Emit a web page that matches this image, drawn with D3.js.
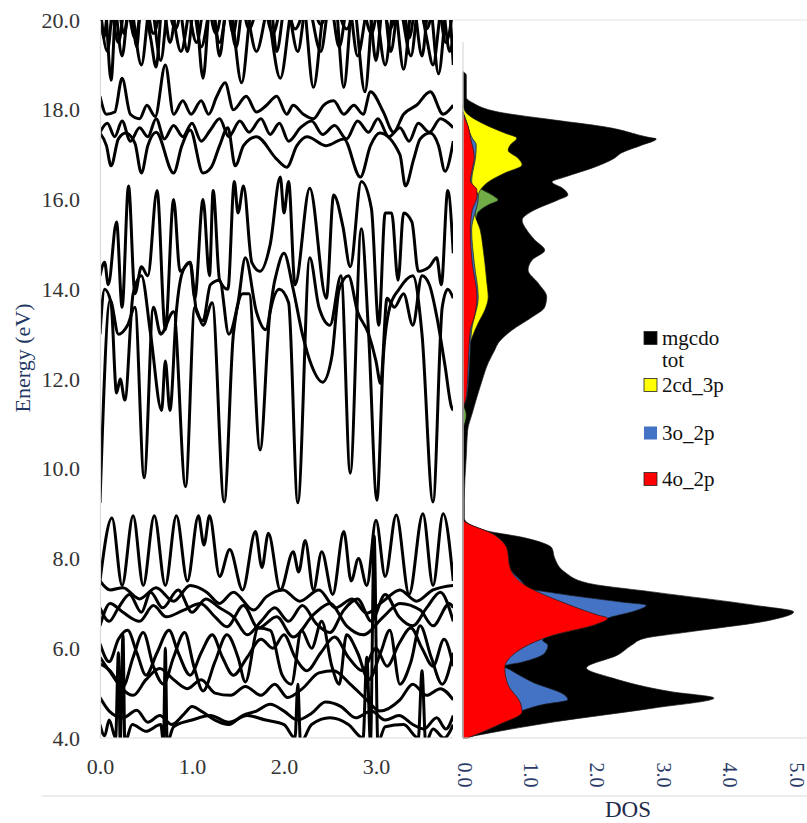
<!DOCTYPE html>
<html>
<head>
<meta charset="utf-8">
<script src="https://cdn.jsdelivr.net/npm/d3@7"></script>
<style>
  body { margin: 0; background: #fff; }
  svg { display: block; }
  svg text { font-family: "Liberation Serif", "DejaVu Serif", "Times New Roman", serif !important; }
</style>
</head>
<body>
<svg id="chart" width="807" height="823" font-family="Liberation Serif, DejaVu Serif, serif"></svg>
<script>
// band structure: [k, energy] pairs
const bandL2 = [[0,4.3],[0.05,4.05],[0.1,4.4],[0.17,4.0],[0.2,5.9],[0.22,3.9],[0.25,6.3],[0.27,3.9],[0.35,4.3],[0.5,4.15],[0.66,4.3],[0.69,3.9],[0.71,6.0],[0.73,3.9],[0.8,4.25],[1.0,4.4],[1.2,4.5],[1.4,4.35],[1.6,4.5],[1.8,4.4],[2.0,4.3],[2.12,4.0],[2.15,5.2],[2.18,3.9],[2.3,4.3],[2.5,4.45],[2.7,4.3],[2.86,4.0],[2.9,5.8],[2.94,3.9],[2.98,8.5],[3.02,3.9],[3.1,4.25],[3.3,4.3],[3.46,4.0],[3.5,5.5],[3.54,3.9],[3.62,4.2],[3.74,4.0],[3.84,4.3]];
const bandL3 = [[0,4.9],[0.1,4.6],[0.25,4.45],[0.4,4.62],[0.52,4.35],[0.65,4.5],[0.78,4.3],[0.92,4.55],[1.0,4.7],[1.1,4.6],[1.25,4.4],[1.4,4.3],[1.55,4.5],[1.7,4.6],[1.85,4.75],[2.0,4.6],[2.15,4.4],[2.3,4.55],[2.45,4.8],[2.62,4.7],[2.78,4.45],[2.95,4.6],[3.1,4.4],[3.25,4.5],[3.4,4.3],[3.52,4.2],[3.66,4.45],[3.76,4.2],[3.84,4.5]];
const bandL4 = [[0,5.65],[0.11,5.5],[0.24,5.1],[0.36,4.95],[0.5,5.3],[0.65,5.55],[0.8,5.3],[0.95,5.1],[1.1,5.3],[1.25,5.0],[1.42,4.95],[1.58,5.15],[1.75,4.95],[1.9,5.2],[2.04,4.9],[2.2,5.1],[2.38,5.45],[2.54,5.5],[2.72,5.2],[2.9,4.85],[3.04,4.6],[3.26,4.85],[3.4,5.2],[3.55,4.95],[3.7,5.1],[3.84,4.85]];
const bandL5 = [[0,5.8],[0.1,5.5],[0.25,5.15],[0.36,5.8],[0.47,6.35],[0.58,5.6],[0.69,5.2],[0.8,5.8],[0.92,6.35],[1.02,5.6],[1.12,5.05],[1.25,5.7],[1.38,6.3],[1.5,5.8],[1.58,5.25],[1.72,6.45],[1.85,6.4],[1.98,5.4],[2.08,5.2],[2.19,6.4],[2.3,6.0],[2.41,6.6],[2.52,5.6],[2.6,5.2],[2.68,6.3],[2.8,5.9],[2.92,5.3],[3.05,5.9],[3.15,6.4],[3.26,5.2],[3.38,5.7],[3.48,6.5],[3.6,5.8],[3.72,5.2],[3.84,5.9]];
const bandL5b = [[0,6.1],[0.1,5.7],[0.2,6.2],[0.3,6.4],[0.4,5.9],[0.5,5.4],[0.62,5.9],[0.75,6.4],[0.85,5.9],[0.98,5.4],[1.1,5.9],[1.22,6.3],[1.33,5.8],[1.45,5.4],[1.6,5.8],[1.75,6.2],[1.88,6.0],[2.0,6.3],[2.12,5.8],[2.25,5.5],[2.4,5.9],[2.55,6.25],[2.7,5.8],[2.85,5.5],[3.0,6.0],[3.12,5.6],[3.25,6.1],[3.38,6.45],[3.5,6.0],[3.62,5.6],[3.74,6.2],[3.84,5.6]];
const bandL6 = [[0,6.5],[0.11,7.0],[0.25,6.8],[0.43,6.6],[0.58,6.95],[0.72,6.7],[0.91,6.85],[1.09,7.0],[1.25,6.7],[1.38,6.48],[1.56,6.95],[1.72,6.45],[1.92,6.7],[2.1,6.25],[2.32,6.75],[2.5,7.0],[2.68,6.5],[2.86,6.3],[3.08,6.7],[3.26,7.0],[3.48,6.85],[3.62,6.5],[3.8,7.0],[3.84,6.9]];
const bandL6b = [[0,6.9],[0.1,6.6],[0.2,6.9],[0.32,7.2],[0.45,6.8],[0.55,7.25],[0.68,6.9],[0.85,7.3],[1.0,6.8],[1.15,7.1],[1.3,6.9],[1.45,6.7],[1.6,6.3],[1.75,6.6],[1.9,6.9],[2.05,6.6],[2.2,6.95],[2.35,6.55],[2.5,6.35],[2.65,6.85],[2.8,7.1],[2.95,6.6],[3.1,7.2],[3.25,6.7],[3.4,6.5],[3.55,6.9],[3.7,7.25],[3.84,6.6]];
const bandL7 = [[0,7.5],[0.11,7.3],[0.25,7.35],[0.43,7.1],[0.61,7.35],[0.8,7.05],[0.98,7.4],[1.16,7.25],[1.3,7.0],[1.45,7.25],[1.67,6.85],[1.81,7.15],[1.99,7.3],[2.17,7.05],[2.38,7.3],[2.56,6.9],[2.74,7.1],[2.9,6.78],[3.08,7.05],[3.26,7.3],[3.44,7.05],[3.62,7.3],[3.84,7.4]];
const bandL8 = [[0,7.5],[0.13,8.9],[0.24,7.4],[0.36,8.95],[0.47,7.4],[0.59,8.95],[0.71,7.4],[0.83,8.95],[0.95,7.5],[1.07,8.95],[1.13,8.3],[1.19,8.95],[1.3,7.6],[1.41,8.2],[1.55,7.3],[1.69,8.6],[1.76,7.8],[1.83,8.56],[1.96,7.3],[2.1,8.15],[2.16,7.7],[2.23,8.4],[2.32,7.3],[2.41,8.15],[2.53,7.2],[2.65,8.6],[2.73,7.5],[2.81,8.0],[2.9,7.4],[3.0,8.85],[3.1,7.6],[3.22,8.97],[3.36,7.2],[3.51,9.0],[3.62,7.4],[3.73,9.0],[3.84,7.5]];
const bandM1 = [[0,9.24],[0.11,13.76],[0.2,13.0],[0.3,13.2],[0.38,13.6],[0.48,9.8],[0.58,13.6],[0.66,13.0],[0.8,13.5],[0.93,9.6],[1.03,13.6],[1.12,13.2],[1.22,13.7],[1.35,9.26],[1.45,13.0],[1.55,13.9],[1.62,13.9],[1.74,10.42],[1.85,13.5],[1.95,14.0],[2.05,13.7],[2.15,9.24],[2.28,14.7],[2.38,13.6],[2.5,13.2],[2.62,14.3],[2.72,9.9],[2.84,15.35],[2.92,13.0],[3.01,9.3],[3.08,12.5],[3.15,13.6],[3.25,14.0],[3.4,14.3],[3.5,13.0],[3.62,9.26],[3.72,13.6],[3.78,14.0],[3.84,13.8]];
const bandM2 = [[0,13.0],[0.05,14.0],[0.12,13.7],[0.18,11.69],[0.22,12.0],[0.27,11.53],[0.36,13.9],[0.45,14.3],[0.55,13.0],[0.67,11.3],[0.71,12.4],[0.76,11.3],[0.83,13.5],[0.9,14.4],[0.98,14.6],[1.05,13.5],[1.12,13.3],[1.2,14.1],[1.3,14.2],[1.4,13.0],[1.5,13.7],[1.58,14.7],[1.7,13.5],[1.8,13.1],[1.9,14.2],[2.0,14.8],[2.1,14.0],[2.2,13.0],[2.3,12.3],[2.42,11.93],[2.52,12.5],[2.6,14.0],[2.7,14.3],[2.8,13.5],[2.92,13.0],[3.0,12.4],[3.05,11.9],[3.12,13.8],[3.2,13.6],[3.3,13.9],[3.4,13.2],[3.5,14.3],[3.58,14.1],[3.66,13.4],[3.75,12.3],[3.82,11.38],[3.84,11.3]];
const bandM3 = [[0,14.3],[0.05,14.6],[0.09,14.1],[0.18,15.5],[0.24,13.6],[0.31,16.3],[0.38,13.9],[0.45,14.5],[0.52,14.3],[0.62,16.2],[0.71,13.1],[0.8,16.0],[0.87,14.4],[0.98,14.6],[1.03,13.8],[1.12,16.0],[1.19,14.3],[1.23,16.2],[1.3,14.2],[1.39,14.0],[1.46,16.4],[1.5,15.7],[1.56,16.3],[1.65,14.6],[1.74,14.4],[1.85,15.0],[1.96,16.5],[2.0,15.7],[2.05,16.4],[2.12,14.1],[2.28,16.25],[2.46,13.8],[2.54,16.1],[2.64,15.4],[2.72,14.5],[2.84,16.4],[2.95,15.8],[3.03,13.2],[3.1,15.7],[3.17,15.7],[3.24,14.2],[3.3,15.7],[3.39,15.5],[3.46,14.4],[3.58,14.5],[3.66,14.7],[3.71,14.1],[3.78,16.2],[3.84,14.8]];
const bandT1 = [[0,17.48],[0.07,17.2],[0.12,16.75],[0.2,17.35],[0.28,17.48],[0.38,17.25],[0.45,16.59],[0.52,17.2],[0.61,17.5],[0.8,16.59],[0.89,17.2],[0.98,17.55],[1.12,16.59],[1.21,16.72],[1.3,17.2],[1.39,17.6],[1.47,16.75],[1.56,17.2],[1.7,17.4],[1.92,16.9],[2.03,16.72],[2.14,17.2],[2.25,17.4],[2.46,17.2],[2.65,17.35],[2.83,16.5],[2.94,17.2],[3.04,17.48],[3.26,17.0],[3.32,16.3],[3.41,16.9],[3.48,17.35],[3.59,17.48],[3.68,17.2],[3.75,16.63],[3.84,17.3]];
const bandT1b = [[0,17.5],[0.08,17.7],[0.16,17.4],[0.24,17.75],[0.33,17.3],[0.43,17.6],[0.52,17.4],[0.61,17.8],[0.7,17.35],[0.8,17.65],[0.9,17.4],[1.0,17.7],[1.1,17.3],[1.2,17.55],[1.3,17.8],[1.4,17.4],[1.52,17.75],[1.62,17.5],[1.75,17.8],[1.85,17.45],[1.95,17.7],[2.05,17.3],[2.18,17.6],[2.3,17.75],[2.42,17.45],[2.55,17.65],[2.68,17.35],[2.8,17.75],[2.92,17.5],[3.02,17.8],[3.14,17.4],[3.26,17.6],[3.36,17.3],[3.46,17.7],[3.58,17.5],[3.7,17.8],[3.84,17.6]];
const bandT2 = [[0,18.3],[0.07,17.9],[0.16,17.95],[0.24,18.7],[0.33,17.9],[0.43,17.8],[0.51,18.1],[0.6,17.85],[0.71,19.0],[0.8,17.9],[0.9,18.2],[0.99,17.9],[1.1,18.2],[1.18,17.9],[1.27,18.3],[1.36,18.6],[1.45,18.0],[1.59,18.3],[1.7,17.95],[1.81,18.1],[1.92,18.3],[2.03,17.9],[2.1,18.1],[2.21,17.9],[2.32,17.8],[2.43,18.1],[2.54,18.2],[2.65,17.9],[2.76,18.1],[2.86,17.9],[2.94,18.4],[3.08,17.95],[3.19,17.5],[3.3,17.9],[3.44,18.1],[3.59,18.4],[3.73,17.9],[3.84,18.1]];
const bandU1 = [[0,19.8],[0.05,20.4],[0.12,18.66],[0.18,20.5],[0.26,19.7],[0.33,20.3],[0.4,19.4],[0.45,20.5],[0.55,19.6],[0.61,18.95],[0.68,20.4],[0.76,19.5],[0.85,20.4],[0.95,19.3],[1.03,20.4],[1.12,18.7],[1.2,20.4],[1.3,19.5],[1.4,20.4],[1.54,18.6],[1.65,20.3],[1.78,20.5],[1.96,18.7],[2.1,20.4],[2.2,20.5],[2.32,18.5],[2.45,20.4],[2.55,20.5],[2.65,18.5],[2.75,20.4],[2.88,18.4],[2.98,20.4],[3.1,19.0],[3.2,20.3],[3.3,18.9],[3.4,20.4],[3.5,19.2],[3.58,20.4],[3.68,18.8],[3.78,20.4],[3.84,19.0]];
const bandU2 = [[0,20.3],[0.08,19.3],[0.15,20.4],[0.24,19.2],[0.32,20.4],[0.45,19.0],[0.55,20.4],[0.66,19.1],[0.75,20.4],[0.88,19.3],[1.0,20.4],[1.1,19.4],[1.22,20.4],[1.3,19.2],[1.38,20.3],[1.48,19.4],[1.56,20.4],[1.7,19.3],[1.85,20.4],[1.92,19.3],[2.02,20.4],[2.15,19.3],[2.25,20.4],[2.4,19.3],[2.5,20.4],[2.6,19.4],[2.7,20.4],[2.8,19.2],[2.92,20.3],[3.0,19.1],[3.08,20.4],[3.16,19.3],[3.25,20.3],[3.38,19.2],[3.47,20.4],[3.55,19.6],[3.62,19.0],[3.72,20.3],[3.8,19.3],[3.84,19.6]];
const bandU3 = [[0,20.5],[0.04,19.6],[0.1,20.4],[0.2,19.5],[0.28,20.4],[0.38,19.6],[0.48,20.5],[0.58,19.7],[0.7,20.5],[0.82,19.8],[0.92,20.5],[1.05,19.5],[1.15,20.5],[1.26,19.7],[1.36,20.5],[1.45,19.7],[1.52,20.5],[1.62,19.8],[1.75,20.5],[1.88,19.7],[2.0,20.5],[2.12,19.8],[2.28,20.5],[2.4,19.9],[2.52,20.5],[2.68,19.8],[2.82,20.5],[2.95,19.7],[3.05,20.5],[3.15,19.8],[3.28,20.5],[3.36,19.6],[3.45,20.5],[3.55,19.8],[3.66,20.5],[3.76,19.5],[3.84,20.3]];
const bands = [bandL2, bandL3, bandL4, bandL5, bandL5b, bandL6, bandL6b, bandL7, bandL8, bandM1, bandM2, bandM3, bandT1, bandT1b, bandT2, bandU1, bandU2, bandU3];

// density of states: [energy, DOS] pairs
const dosTot = [[4.0,0.0],[4.02,0.07],[4.36,1.38],[4.67,2.88],[4.89,3.78],[5.03,3.14],[5.34,2.24],[5.56,1.86],[5.85,2.33],[6.07,2.54],[6.22,2.73],[6.36,3.38],[6.63,4.64],[6.81,4.98],[6.96,4.38],[7.25,2.88],[7.45,1.88],[7.7,1.53],[8.01,1.38],[8.23,1.34],[8.46,0.93],[8.64,0.29],[8.9,0.02],[9.3,0.02],[9.8,0.03],[10.3,0.05],[10.86,0.07],[11.24,0.14],[11.6,0.21],[11.98,0.29],[12.36,0.38],[12.65,0.48],[12.8,0.53],[13.09,0.74],[13.38,1.04],[13.6,1.23],[13.83,1.26],[14.14,1.13],[14.43,0.98],[14.65,1.04],[14.87,1.23],[15.1,1.08],[15.32,0.96],[15.54,0.89],[15.77,1.08],[15.99,1.43],[16.1,1.58],[16.26,1.49],[16.39,1.34],[16.5,1.53],[16.72,1.98],[16.92,2.28],[17.04,2.39],[17.21,2.69],[17.35,2.91],[17.39,2.78],[17.62,2.13],[17.77,1.38],[17.95,0.53],[18.15,0.15],[18.28,0.05],[18.77,0.05],[18.85,0.0]];
const dosCd3p = [[11.8,0.0],[12.36,0.05],[12.65,0.08],[12.94,0.14],[13.25,0.23],[13.54,0.33],[13.83,0.38],[14.14,0.36],[14.58,0.33],[14.94,0.3],[15.32,0.26],[15.7,0.18],[15.99,0.21],[16.21,0.26],[16.39,0.38],[16.59,0.63],[16.77,0.89],[16.92,0.83],[17.1,0.68],[17.21,0.71],[17.37,0.81],[17.48,0.63],[17.7,0.29],[17.93,0.05],[18.1,0.0]];
const dosGreen = [[10.9,0.0],[11.2,0.05],[11.5,0.0],[15.3,0.1],[15.6,0.2],[15.72,0.23],[15.88,0.38],[15.99,0.53],[16.06,0.48],[16.21,0.3],[16.35,0.12],[16.6,0.0]];
const dosO3 = [[4.0,0.07],[4.29,0.53],[4.62,0.91],[4.74,1.19],[4.85,1.58],[4.96,1.53],[5.25,1.04],[5.52,0.71],[5.6,0.62],[5.69,0.89],[5.89,1.23],[6.07,1.28],[6.18,1.2],[6.3,1.38],[6.52,1.98],[6.7,2.24],[6.81,2.54],[6.96,2.76],[7.03,2.39],[7.23,1.38],[7.34,0.96],[7.41,0.93],[7.79,0.71],[8.23,0.66],[8.52,0.48],[8.88,0.0],[11.3,0.0],[11.6,0.06],[12.36,0.1],[13.09,0.13],[13.83,0.23],[14.58,0.17],[15.32,0.13],[16.06,0.23],[16.41,0.13],[16.95,0.19],[17.21,0.2],[17.39,0.13],[17.8,0.04],[17.95,0.0]];
const dosO4 = [[4.0,0.07],[4.29,0.53],[4.58,0.89],[4.8,0.86],[5.18,0.68],[5.56,0.63],[5.92,0.81],[6.14,1.08],[6.3,1.38],[6.52,1.98],[6.67,2.18],[6.74,2.03],[7.03,1.49],[7.41,0.93],[7.79,0.71],[8.23,0.66],[8.52,0.48],[8.88,0.0],[11.3,0.0],[11.6,0.05],[12.36,0.08],[13.09,0.11],[13.38,0.17],[13.83,0.21],[14.58,0.14],[15.32,0.11],[15.77,0.14],[16.06,0.21],[16.21,0.21],[16.41,0.11],[16.68,0.14],[16.95,0.17],[17.39,0.11],[17.62,0.08],[17.8,0.03],[17.95,0.0]];

const dosSeries = [
  { data: dosTot, color: "#000000" },
  { data: dosGreen, color: "#70AD47" },
  { data: dosCd3p, color: "#FFFF00" },
  { data: dosO3, color: "#4472C4" },
  { data: dosO4, color: "#FF0000" },
];
const legendLabels = [["mgcdo", "tot"], ["2cd_3p"], ["3o_2p"], ["4o_2p"]];
const legendColors = ["#000000", "#FFFF00", "#4472C4", "#FF0000"];

const energyTicks = [4, 6, 8, 10, 12, 14, 16, 18, 20];
const kTicks = [0, 1, 2, 3];
const dosTicks = [0, 1, 2, 3, 4, 5];

const FONT = "Liberation Serif, DejaVu Serif, serif";

const svg = d3.select("#chart");
svg.append("rect").attr("width", 807).attr("height", 823).attr("fill", "#fff");

const y = d3.scaleLinear().domain([4, 20]).range([738, 20]);
const x = d3.scaleLinear().domain([0, 3.837]).range([100, 453]);
const xd = d3.scaleLinear().domain([0, 5]).range([463, 795]);

// chart frame lines
svg.append("line").attr("x1", 100).attr("x2", 807).attr("y1", 20).attr("y2", 20)
  .attr("stroke", "#e3e3e3").attr("stroke-width", 1.2);
svg.append("line").attr("x1", 42).attr("x2", 807).attr("y1", 796).attr("y2", 796)
  .attr("stroke", "#d9d9d9").attr("stroke-width", 1.2);

// band panel
svg.append("clipPath").attr("id", "bandClip")
  .append("rect").attr("x", 100).attr("y", 20).attr("width", 353).attr("height", 718);

const bandLine = d3.line()
  .x((d) => x(d[0]))
  .y((d) => y(d[1]))
  .curve(d3.curveMonotoneX);

svg.append("g").attr("clip-path", "url(#bandClip)")
  .selectAll("path")
  .data(bands)
  .enter()
  .append("path")
  .attr("d", bandLine)
  .attr("fill", "none")
  .attr("stroke", "#000")
  .attr("stroke-width", 3)
  .attr("stroke-linejoin", "round");

const yAxis = svg.append("g")
  .attr("transform", "translate(100,0)")
  .call(d3.axisLeft(y).tickValues(energyTicks).tickFormat(d3.format(".1f")).tickSize(0).tickPadding(20))
  .attr("font-family", FONT);
yAxis.select(".domain").attr("stroke", "#d9d9d9").attr("stroke-width", 1.2);
yAxis.selectAll("text").attr("font-size", 22).attr("fill", "#333").attr("font-family", FONT);

const xAxis = svg.append("g")
  .attr("transform", "translate(0,738)")
  .call(d3.axisBottom(x).tickValues(kTicks).tickFormat(d3.format(".1f")).tickSize(0).tickPadding(20))
  .attr("font-family", FONT);
xAxis.select(".domain").attr("d", `M100,0H453`).attr("stroke", "#d9d9d9").attr("stroke-width", 1.2);
xAxis.selectAll("text").attr("font-size", 22).attr("fill", "#333").attr("font-family", FONT);

svg.append("text")
  .attr("transform", "translate(22,358) rotate(-90)")
  .attr("text-anchor", "middle")
  .attr("dy", "0.35em")
  .attr("font-size", 22)
  .attr("font-family", FONT)
  .attr("fill", "#1F3864")
  .text("Energy (eV)");

// DOS panel
const dosArea = d3.area()
  .y((d) => y(d[0]))
  .x0(xd(0))
  .x1((d) => xd(d[1]))
  .curve(d3.curveMonotoneY);

svg.append("g")
  .selectAll("path")
  .data(dosSeries)
  .enter()
  .append("path")
  .attr("d", (s) => dosArea(s.data.slice().reverse()))
  .attr("fill", (s) => s.color)
  .attr("stroke", "#1a1a1a")
  .attr("stroke-width", 0.7);

svg.append("line").attr("x1", xd(0)).attr("x2", xd(0)).attr("y1", 42).attr("y2", 738)
  .attr("stroke", "#d9d9d9").attr("stroke-width", 1.2);

const dAxis = svg.append("g")
  .attr("transform", "translate(0,738)")
  .call(d3.axisBottom(xd).tickValues(dosTicks).tickFormat(d3.format(".1f")).tickSize(0))
  .attr("font-family", FONT);
dAxis.select(".domain").attr("d", `M${xd(0)},0H807`).attr("stroke", "#d9d9d9").attr("stroke-width", 1.2);
dAxis.selectAll("text")
  .attr("y", 0)
  .attr("dy", "0.3em")
  .attr("transform", "translate(0,37) rotate(90)")
  .attr("text-anchor", "middle")
  .attr("font-size", 20)
  .attr("font-family", FONT)
  .attr("fill", "#2a3a66");

svg.append("text")
  .attr("x", 628)
  .attr("y", 817)
  .attr("text-anchor", "middle")
  .attr("font-size", 23)
  .attr("font-family", FONT)
  .attr("fill", "#1F2A4A")
  .text("DOS");

// legend
const legendY = [338, 385, 433, 479];
const legend = svg.append("g")
  .selectAll("g")
  .data(legendLabels)
  .enter()
  .append("g")
  .attr("transform", (d, i) => `translate(644,${legendY[i]})`);

legend.append("rect")
  .attr("x", 0)
  .attr("y", -6.5)
  .attr("width", 13)
  .attr("height", 13)
  .attr("fill", (d, i) => legendColors[i])
  .attr("stroke", (d, i) => (i === 2 ? "none" : "#222"))
  .attr("stroke-width", 0.8);

legend.append("text")
  .attr("x", 18)
  .attr("y", 7)
  .attr("font-size", 21)
  .attr("font-family", FONT)
  .attr("fill", "#111")
  .selectAll("tspan")
  .data((d) => d)
  .enter()
  .append("tspan")
  .attr("x", 18)
  .attr("dy", (d, i) => (i === 0 ? 0 : 22))
  .text((d) => d);
</script>
</body>
</html>
